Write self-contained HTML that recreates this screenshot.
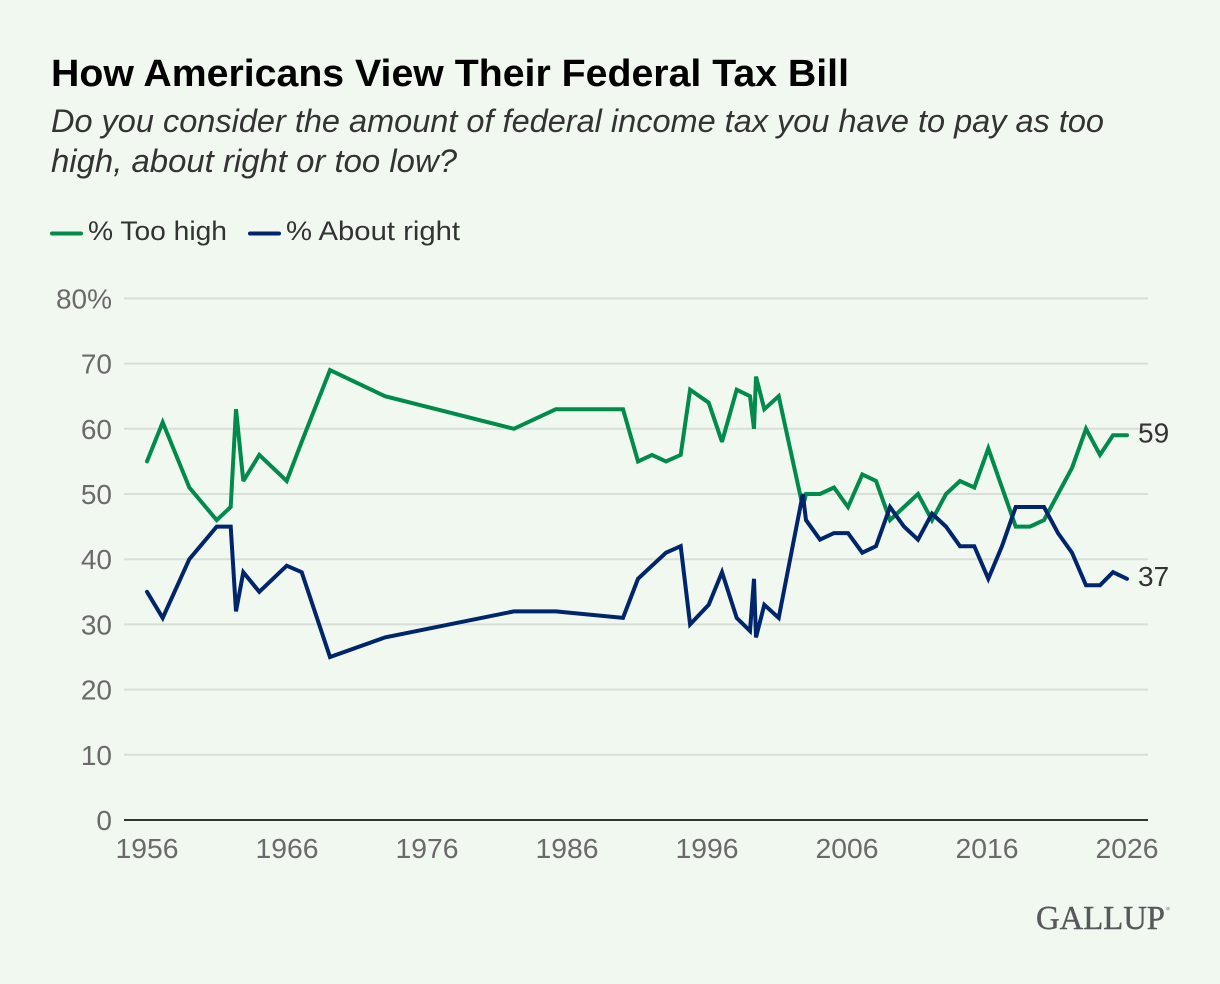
<!DOCTYPE html>
<html lang="en">
<head>
<meta charset="utf-8">
<title>How Americans View Their Federal Tax Bill</title>
<style>
html,body{margin:0;padding:0;background:#f1f8f0;}
svg{display:block;}
text{font-family:"Liberation Sans",sans-serif;}
</style>
</head>
<body>
<svg id="chart" width="1220" height="984" viewBox="0 0 1220 984" xmlns="http://www.w3.org/2000/svg">
  <rect x="0" y="0" width="1220" height="984" fill="#f1f8f0"/>
  <text x="51" y="86" font-size="38" font-weight="700" fill="#000" textLength="798" lengthAdjust="spacingAndGlyphs">How Americans View Their Federal Tax Bill</text>
  <text x="51" y="132" font-size="32" font-style="italic" fill="#333" textLength="1053" lengthAdjust="spacingAndGlyphs">Do you consider the amount of federal income tax you have to pay as too</text>
  <text x="51" y="172" font-size="32" font-style="italic" fill="#333" textLength="406" lengthAdjust="spacingAndGlyphs">high, about right or too low?</text>
  <g>
    <line x1="52" y1="233.500" x2="81" y2="233.500" stroke="#008a4b" stroke-width="4" stroke-linecap="round"/>
    <text x="88" y="240" font-size="27" fill="#333" textLength="139" lengthAdjust="spacingAndGlyphs">% Too high</text>
    <line x1="250" y1="233.500" x2="279" y2="233.500" stroke="#00256b" stroke-width="4" stroke-linecap="round"/>
    <text x="286" y="240" font-size="27" fill="#333" textLength="174" lengthAdjust="spacingAndGlyphs">% About right</text>
  </g>
  <g id="grid"></g>
  <g id="y-axis"></g>
  <g id="x-axis"></g>
  <g id="series"></g>
  <g id="end-labels"></g>
  <g>
    <text x="1036" y="929" style="font-family:'Liberation Serif',serif" font-size="34" fill="#58595b" stroke="#58595b" stroke-width="0.4" textLength="129" lengthAdjust="spacingAndGlyphs">GALLUP</text>
    <circle cx="1168" cy="908.500" r="1.800" fill="#b9b9b9"/>
  </g>
</svg>
<script>
const dates = [1956,1957.12,1959.02,1960.98,1961.98,1962.36,1962.88,1964.02,1965.98,1967.05,1969.07,1973,1982.21,1985.2,1990,1991.07,1992.07,1993.07,1994.12,1994.79,1996.12,1997.07,1998.12,1999.07,1999.36,1999.5,2000.09,2001.12,2002.84,2003.07,2004.07,2005.07,2006.07,2007.09,2008.07,2009.07,2010.07,2011.07,2012.07,2013.07,2014.07,2015.09,2016.09,2017.07,2018.05,2019.07,2020.07,2021.07,2022.07,2023.07,2024.07,2025,2026];
const tooHigh = [55,61,51,46,48,63,52,56,52,58,69,65,60,63,63,55,56,55,56,66,64,58,66,65,60,68,63,65,48,50,50,51,48,53,52,46,48,50,46,50,52,51,57,51,45,45,46,50,54,60,56,59,59];
const aboutRight = [35,31,40,45,45,32,38,35,39,38,25,28,32,32,31,37,39,41,42,30,33,38,31,29,37,28,33,31,50,46,43,44,44,41,42,48,45,43,47,45,42,42,37,42,48,48,48,44,41,36,36,38,37];
const yTicks = [0,10,20,30,40,50,60,70,80];
const xTicks = [1956,1966,1976,1986,1996,2006,2016,2026];

const NS = 'http://www.w3.org/2000/svg';
const xScale = function (d) { return 147 + (d - 1956) * 14; };
const yScale = function (v) { return 820 - v * 6.52; };

function make(tag, parent, attrs) {
  const el = document.createElementNS(NS, tag);
  Object.keys(attrs).forEach(function (k) { el.setAttribute(k, attrs[k]); });
  parent.appendChild(el);
  return el;
}

const gridG = document.getElementById('grid');
const yG = document.getElementById('y-axis');
const xG = document.getElementById('x-axis');
const seriesG = document.getElementById('series');
const endG = document.getElementById('end-labels');

yTicks.forEach(function (t) {
  const zero = t === 0;
  const ln = make('line', gridG, {x1: 124, x2: 1148, y1: yScale(t), y2: yScale(t), stroke: zero ? '#333333' : '#d9dfd8', 'stroke-width': 2});
  
  
  const lab = make('text', yG, {x: 112, y: yScale(t) + 10, 'text-anchor': 'end', 'font-size': 28, fill: '#6a6a6a'});
  
  
  lab.textContent = t === 80 ? t + '%' : String(t);
});

xTicks.forEach(function (t) {
  const lab = make('text', xG, {x: xScale(t), y: 858, 'text-anchor': 'middle', 'font-size': 28, fill: '#6a6a6a', textLength: 63, lengthAdjust: 'spacingAndGlyphs'});
  
  
  lab.textContent = String(t);
});

function drawSeries(values, color, name) {
  const pts = values.map(function (v, i) { return xScale(dates[i]).toFixed(1) + ',' + yScale(v).toFixed(1); }).join(' ');
  const pl = make('polyline', seriesG, {points: pts, fill: 'none', stroke: color, 'stroke-width': 4, 'stroke-linejoin': 'miter', 'stroke-miterlimit': 3, 'stroke-linecap': 'round'});
  
  
}
drawSeries(tooHigh, '#008a4b', 'line-too-high');
drawSeries(aboutRight, '#00256b', 'line-about-right');

function endLabel(values, name) {
  const v = values[values.length - 1];
  const t = make('text', endG, {x: 1138, y: yScale(v) + 7, 'font-size': 28, fill: '#333'});
  
  
  t.textContent = String(v);
}
endLabel(tooHigh, 'end-label-too-high');
endLabel(aboutRight, 'end-label-about-right');
</script>
</body>
</html>
